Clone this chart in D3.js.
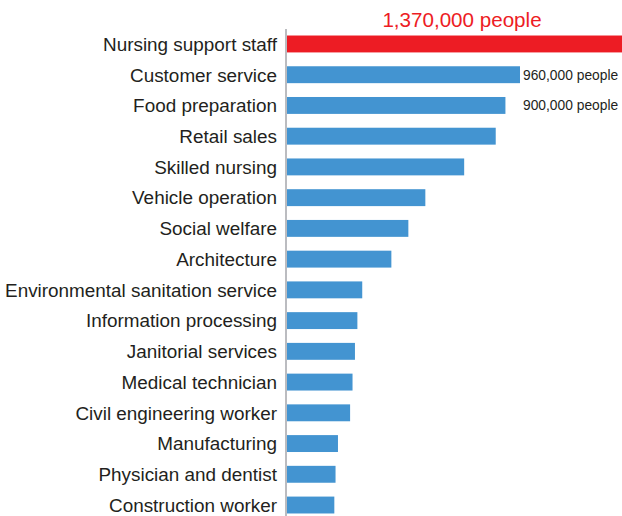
<!DOCTYPE html>
<html><head><meta charset="utf-8">
<script src="https://cdn.jsdelivr.net/npm/d3@7"></script>
<style>body{margin:0;background:#fff}svg{display:block}</style>
</head><body>
<script>
const categories = ["Nursing support staff","Customer service","Food preparation","Retail sales","Skilled nursing","Vehicle operation","Social welfare","Architecture","Environmental sanitation service","Information processing","Janitorial services","Medical technician","Civil engineering worker","Manufacturing","Physician and dentist","Construction worker"];
const values = [1370000,960000,900000,860000,730000,570000,500000,430000,310000,290000,280000,270000,260000,210000,200000,195000];
const valueLabels = ["1,370,000 people","960,000 people","900,000 people"];

const W = 622, H = 516;
const svg = d3.select("body").append("svg").attr("width", W).attr("height", H);
const font = "Arial, 'Liberation Sans', Helvetica, sans-serif";

const x = d3.scaleLinear().domain([0, 1370000]).range([287, 619.5]);
const y = d3.scaleBand().domain(categories).range([28.6, 520.4]).paddingInner(0.45).paddingOuter(0.225);

svg.selectAll("rect.bar").data(categories).enter().append("rect")
  .attr("x", x(0))
  .attr("y", d => y(d))
  .attr("height", y.bandwidth())
  .attr("width", (d,i) => (i === 0 ? W : x(values[i])) - x(0))
  .attr("fill", (d,i) => i === 0 ? "#ed1c24" : "#4394d1");

// axis line
svg.append("line").attr("x1", 286).attr("x2", 286).attr("y1", 29).attr("y2", H)
  .attr("stroke", "#bbbcc0").attr("stroke-width", 2);

svg.selectAll("text.cat").data(categories).enter().append("text")
  .attr("x", 277)
  .attr("y", d => y(d) + y.bandwidth()/2)
  .attr("dy", "0.36em")
  .attr("text-anchor", "end")
  .attr("font-family", font).attr("font-size", 18.9).attr("fill", "#231f20")
  .text(d => d);

svg.append("text").attr("x", 462).attr("y", 27)
  .attr("text-anchor", "middle").attr("font-family", font).attr("font-size", 20.6)
  .attr("fill", "#ed1c24").text(valueLabels[0]);

[1,2].forEach(i => {
  svg.append("text").attr("x", 523).attr("y", y(categories[i]) + y.bandwidth()/2)
    .attr("dy", "0.36em").attr("font-family", font).attr("font-size", 13.8)
    .attr("fill", "#231f20").text(valueLabels[i]);
});
</script>
</body></html>
